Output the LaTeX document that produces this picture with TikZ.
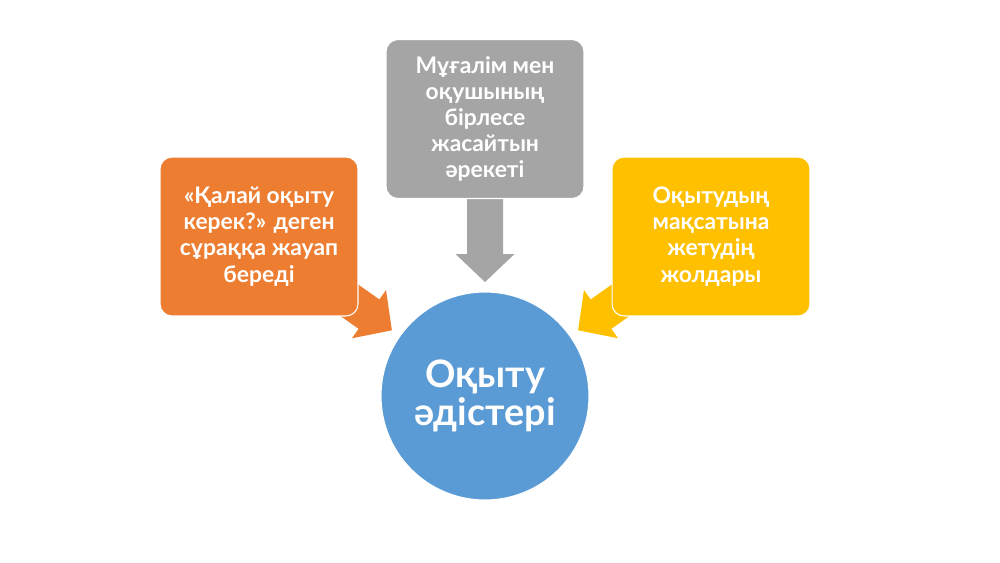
\documentclass[tikz,border=0pt]{standalone}
\usepackage{fontspec}
\setmainfont{Lato}
\usepackage{tikz}
\usetikzlibrary{calc}
\usetikzlibrary{backgrounds}

\definecolor{orangeC}{HTML}{ED7D31}
\definecolor{grayC}{HTML}{A5A5A5}
\definecolor{yellowC}{HTML}{FFC000}
\definecolor{blueC}{HTML}{5B9BD5}

\begin{document}
\begin{tikzpicture}[x=0.02cm,y=-0.02cm,
  box/.style={draw=white,line width=0.6pt,rounded corners=0.24cm,minimum width=3.96cm,minimum height=3.18cm,align=center,text=white,font=\fontsize{13}{14.9}\selectfont\bfseries},
  blk/.style={to path={let \p1=(\tikztostart), \p2=(\tikztotarget), \n1={atan2(\y2-\y1,\x2-\x1)} in
    (\p2) -- ($(\p2)+(\n1+180:0.56cm)+(\n1+90:0.59cm)$) -- ($(\p2)+(\n1+180:0.56cm)+(\n1+90:0.36cm)$)
    -- ($(\p1)+(\n1+90:0.36cm)$) -- ($(\p1)+(\n1-90:0.36cm)$)
    -- ($(\p2)+(\n1+180:0.56cm)+(\n1-90:0.36cm)$) -- ($(\p2)+(\n1+180:0.56cm)+(\n1-90:0.59cm)$) -- cycle}}]
  \useasboundingbox (0,0) rectangle (1000,562);

  % the centre
  \node [circle,draw=white,line width=0.6pt,fill=blueC,minimum size=4.16cm,align=center,text=white,
    font=\fontsize{21.5}{21.9}\selectfont\bfseries] (A) at (485,396) {Оқыту\\әдістері};

  % the three boxes
  \node [box,fill=orangeC] (B1) at (259,236.5) {«Қалай оқыту\\керек?» деген\\сұраққа жауап\\береді};
  \node [box,fill=grayC] (B2) at (485,119) {Мұғалім мен\\оқушының\\бірлесе\\жасайтын\\әрекеті};
  \node [box,fill=yellowC] (B3) at (711,236.5) {Оқытудың\\мақсатына\\жетудің\\жолдары};

  \coordinate (T1) at ($(A)!2.28cm!(B1)$);
  \coordinate (T2) at ($(A)!2.28cm!(B2)$);
  \coordinate (T3) at ($(A)!2.28cm!(B3)$);

  \begin{scope}[on background layer]
    \path[blk,fill=orangeC] (B1) to (T1);
    \path[blk,fill=grayC] (B2) to (T2);
    \path[blk,fill=yellowC] (B3) to (T3);
  \end{scope}
\end{tikzpicture}
\end{document}
